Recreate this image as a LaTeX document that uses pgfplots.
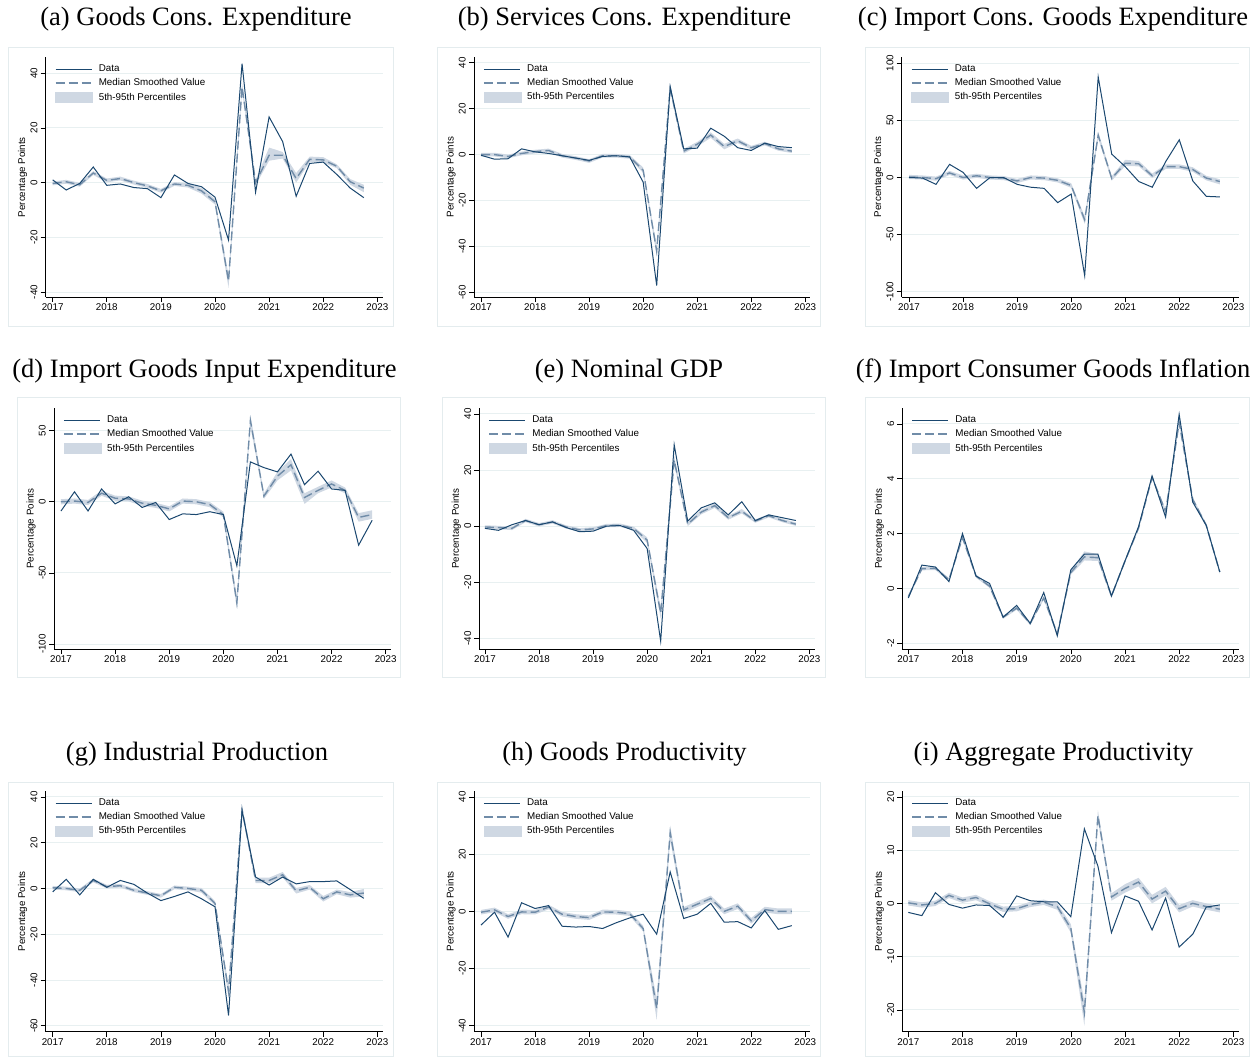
\documentclass[border=0pt]{standalone}
\usepackage{fontspec}
\setmainfont{Liberation Sans}
\newfontfamily\titlefont{Liberation Serif}
\usepackage{pgfplots}
\usepackage{pgfplotstable}
\pgfplotsset{compat=1.18}
\usepgfplotslibrary{fillbetween}
\definecolor{datac}{RGB}{26,71,111}
\definecolor{medc}{RGB}{112,140,168}
\definecolor{bandc}{RGB}{207,216,227}
\definecolor{gridc}{RGB}{232,240,241}
\definecolor{framec}{RGB}{228,236,238}
\newcommand{\smallf}{\fontsize{9.8}{11.5}\selectfont}
\newcommand{\ttl}{\titlefont\fontsize{26.5}{30}\selectfont}

\pgfplotstableread{
x d m lo hi
2017.00 1.0 -0.3 -1.0 0.4
2017.25 -2.7 0.3 -0.4 1.0
2017.50 -0.3 -0.8 -1.5 -0.1
2017.75 5.7 3.5 2.8 4.2
2018.00 -1.0 0.8 0.1 1.5
2018.25 -0.5 1.5 0.8 2.2
2018.50 -1.8 0.0 -0.7 0.7
2018.75 -2.2 -1.2 -1.9 -0.5
2019.00 -5.5 -3.0 -3.7 -2.3
2019.25 2.8 -0.5 -1.2 0.2
2019.50 -0.3 -1.0 -1.8 -0.2
2019.75 -1.5 -3.0 -4.0 -2.0
2020.00 -5.3 -7.0 -8.0 -6.0
2020.25 -21.0 -36.0 -38.5 -34.0
2020.50 43.5 35.0 33.5 36.5
2020.75 -3.5 0.0 -1.0 1.0
2021.00 24.0 10.0 8.0 12.8
2021.25 15.0 10.0 8.8 11.2
2021.50 -5.0 1.5 0.0 3.5
2021.75 7.0 8.5 7.5 9.5
2022.00 7.5 8.3 7.3 9.3
2022.25 3.0 6.0 5.3 6.7
2022.50 -2.0 0.3 -0.8 1.3
2022.75 -5.5 -2.0 -3.5 -0.8
}\tabA
\pgfplotstableread{
x d m lo hi
2017.00 -0.3 0.0 -0.8 0.8
2017.25 -2.0 0.0 -0.8 0.8
2017.50 -1.8 -0.8 -1.6 0.0
2017.75 2.5 0.5 -0.3 1.3
2018.00 1.2 1.3 0.5 2.1
2018.25 0.5 1.8 1.0 2.6
2018.50 -0.5 -0.5 -1.3 0.3
2018.75 -1.5 -1.5 -2.3 -0.7
2019.00 -2.5 -2.8 -3.6 -2.0
2019.25 -0.8 -0.5 -1.3 0.3
2019.50 -0.5 -0.5 -1.3 0.3
2019.75 -1.0 -1.0 -1.8 -0.2
2020.00 -12.0 -6.8 -8.0 -5.6
2020.25 -57.0 -42.0 -44.0 -40.0
2020.50 29.5 29.0 27.5 30.5
2020.75 2.5 1.5 0.5 2.5
2021.00 2.8 4.5 3.5 5.5
2021.25 11.5 8.5 7.3 9.7
2021.50 8.0 3.5 2.3 4.7
2021.75 3.0 6.0 5.0 7.0
2022.00 1.8 3.0 2.2 3.8
2022.25 5.0 4.8 4.0 5.6
2022.50 3.5 2.5 1.7 3.3
2022.75 3.0 1.5 0.7 2.3
}\tabB
\pgfplotstableread{
x d m lo hi
2017.00 0.0 0.5 -1.3 2.3
2017.25 -0.5 0.0 -1.8 1.8
2017.50 -6.0 -1.0 -2.8 0.8
2017.75 11.5 4.0 2.2 5.8
2018.00 4.5 0.0 -1.8 1.8
2018.25 -9.5 1.5 -0.3 3.3
2018.50 0.0 0.0 -1.8 1.8
2018.75 0.0 -0.5 -2.3 1.3
2019.00 -6.0 -3.0 -4.8 -1.2
2019.25 -8.5 0.0 -1.8 1.8
2019.50 -9.5 -0.5 -2.3 1.3
2019.75 -22.0 -2.5 -4.3 -0.7
2020.00 -14.5 -7.0 -9.0 -5.0
2020.25 -86.0 -37.0 -40.5 -34.0
2020.50 88.0 37.0 34.0 40.0
2020.75 20.5 -0.8 -2.8 1.2
2021.00 9.5 12.5 10.0 15.5
2021.25 -3.5 12.0 9.8 14.5
2021.50 -8.5 1.5 -0.5 3.5
2021.75 14.0 9.5 7.5 11.5
2022.00 33.0 9.5 7.5 11.5
2022.25 -3.0 7.0 5.0 9.0
2022.50 -16.5 -0.5 -2.5 1.5
2022.75 -17.0 -3.5 -6.0 -1.5
}\tabC
\pgfplotstableread{
x d m lo hi
2017.00 -6.5 0.0 -1.8 1.8
2017.25 7.0 0.5 -1.3 2.3
2017.50 -6.5 -0.5 -2.3 1.3
2017.75 9.0 6.0 4.2 7.8
2018.00 -1.5 2.5 0.7 4.3
2018.25 3.5 2.0 0.2 3.8
2018.50 -4.0 -1.0 -2.8 0.8
2018.75 -0.5 -2.5 -4.3 -0.7
2019.00 -12.5 -5.0 -6.8 -3.2
2019.25 -8.5 0.5 -1.3 2.3
2019.50 -9.0 0.0 -1.8 1.8
2019.75 -7.0 -2.0 -3.8 -0.2
2020.00 -9.0 -9.0 -11.0 -7.0
2020.25 -45.0 -71.0 -75.0 -67.0
2020.50 28.0 57.0 53.0 61.0
2020.75 24.0 4.0 2.0 6.0
2021.00 21.0 18.0 15.0 21.0
2021.25 33.5 26.0 22.0 30.0
2021.50 12.0 3.0 -1.5 6.0
2021.75 21.5 8.0 6.0 10.5
2022.00 9.0 12.5 10.0 15.0
2022.25 8.0 8.0 6.0 10.0
2022.50 -30.5 -11.0 -14.0 -8.0
2022.75 -13.0 -9.0 -12.0 -6.0
}\tabD
\pgfplotstableread{
x d m lo hi
2017.00 -0.8 -0.3 -0.9 0.3
2017.25 -1.5 -0.5 -1.1 0.1
2017.50 0.5 -0.8 -1.4 -0.2
2017.75 2.0 2.0 1.4 2.6
2018.00 0.5 0.5 -0.1 1.1
2018.25 1.5 1.5 0.9 2.1
2018.50 -0.5 -0.3 -0.9 0.3
2018.75 -2.0 -1.3 -1.9 -0.7
2019.00 -1.8 -1.0 -1.6 -0.4
2019.25 0.0 0.2 -0.4 0.8
2019.50 0.2 0.3 -0.3 0.9
2019.75 -1.5 -0.8 -1.4 -0.2
2020.00 -8.0 -5.0 -6.0 -4.0
2020.25 -41.0 -31.0 -33.0 -29.0
2020.50 29.0 23.5 22.0 25.0
2020.75 1.8 0.7 0.0 1.4
2021.00 6.5 5.0 4.2 5.8
2021.25 8.3 7.3 6.5 8.1
2021.50 4.0 3.0 2.3 3.7
2021.75 8.7 5.3 4.5 6.1
2022.00 2.0 1.8 1.2 2.4
2022.25 4.0 3.7 3.1 4.3
2022.50 3.0 2.0 1.4 2.6
2022.75 2.0 0.7 0.1 1.3
}\tabE
\pgfplotstableread{
x d m lo hi
2017.00 -0.35 -0.30 -0.36 -0.24
2017.25 0.85 0.72 0.66 0.78
2017.50 0.78 0.73 0.67 0.79
2017.75 0.25 0.32 0.26 0.38
2018.00 2.00 1.85 1.79 1.91
2018.25 0.45 0.45 0.39 0.51
2018.50 0.18 0.08 0.02 0.14
2018.75 -1.05 -1.05 -1.11 -0.99
2019.00 -0.62 -0.72 -0.78 -0.66
2019.25 -1.28 -1.28 -1.34 -1.22
2019.50 -0.15 -0.35 -0.41 -0.29
2019.75 -1.73 -1.65 -1.71 -1.59
2020.00 0.68 0.58 0.50 0.66
2020.25 1.25 1.15 1.02 1.35
2020.50 1.25 1.12 1.00 1.25
2020.75 -0.28 -0.28 -0.34 -0.22
2021.00 1.00 1.00 0.94 1.06
2021.25 2.25 2.20 2.14 2.26
2021.50 4.10 4.05 3.99 4.11
2021.75 2.60 2.80 2.72 2.88
2022.00 6.35 6.05 5.97 6.13
2022.25 3.15 3.25 3.17 3.33
2022.50 2.30 2.30 2.24 2.36
2022.75 0.60 0.60 0.54 0.66
}\tabF
\pgfplotstableread{
x d m lo hi
2017.00 -1.5 0.3 -0.5 1.1
2017.25 4.0 0.0 -0.8 0.8
2017.50 -2.8 -0.8 -1.6 0.0
2017.75 4.0 3.5 2.7 4.3
2018.00 0.5 0.8 0.0 1.6
2018.25 3.5 1.2 0.4 2.0
2018.50 1.8 -0.8 -1.6 0.0
2018.75 -2.0 -2.0 -2.8 -1.2
2019.00 -5.3 -3.2 -4.0 -2.4
2019.25 -3.5 0.5 -0.3 1.3
2019.50 -1.5 0.0 -0.8 0.8
2019.75 -4.5 -0.8 -1.8 0.2
2020.00 -8.0 -6.5 -7.5 -5.5
2020.25 -55.5 -45.0 -47.5 -42.5
2020.50 34.0 34.5 33.0 36.0
2020.75 5.0 3.5 2.3 4.7
2021.00 1.5 3.5 2.3 4.7
2021.25 5.0 6.0 4.8 7.2
2021.50 2.0 -1.0 -2.2 0.2
2021.75 3.0 0.5 -0.5 1.5
2022.00 3.0 -4.5 -5.7 -3.3
2022.25 3.3 -1.5 -2.5 -0.5
2022.50 -0.5 -2.8 -4.0 -1.6
2022.75 -4.3 -2.0 -3.5 -0.2
}\tabG
\pgfplotstableread{
x d m lo hi
2017.00 -4.8 -0.3 -1.1 0.5
2017.25 -0.3 0.5 -0.3 1.3
2017.50 -9.0 -1.8 -2.6 -1.0
2017.75 3.0 -0.2 -1.0 0.6
2018.00 1.0 -0.3 -1.1 0.5
2018.25 2.0 1.5 0.7 2.3
2018.50 -5.2 -1.0 -1.8 -0.2
2018.75 -5.5 -1.8 -2.6 -1.0
2019.00 -5.3 -2.2 -3.0 -1.4
2019.25 -6.0 -0.2 -1.0 0.6
2019.50 -4.0 -0.3 -1.1 0.5
2019.75 -2.3 -0.8 -1.6 0.0
2020.00 -1.0 -6.0 -7.0 -5.0
2020.25 -8.0 -34.0 -38.0 -30.5
2020.50 13.8 27.5 25.0 30.0
2020.75 -2.5 0.5 -0.5 1.5
2021.00 -1.0 2.5 1.5 3.5
2021.25 2.8 4.5 3.5 5.5
2021.50 -3.8 0.0 -1.0 1.0
2021.75 -3.6 1.8 0.8 2.8
2022.00 -5.8 -3.3 -4.3 -2.3
2022.25 0.3 0.6 -0.4 1.6
2022.50 -6.3 0.0 -1.0 1.0
2022.75 -5.0 0.0 -1.0 1.0
}\tabH
\pgfplotstableread{
x d m lo hi
2017.00 -1.7 0.1 -0.4 0.6
2017.25 -2.3 -0.3 -0.8 0.2
2017.50 2.0 0.0 -0.5 0.5
2017.75 -0.2 1.5 1.0 2.0
2018.00 -0.9 0.6 0.1 1.1
2018.25 -0.3 1.1 0.6 1.6
2018.50 -0.4 -0.1 -0.6 0.4
2018.75 -2.6 -1.1 -1.6 -0.6
2019.00 1.4 -1.0 -1.5 -0.5
2019.25 0.5 -0.2 -0.7 0.3
2019.50 0.3 0.2 -0.3 0.7
2019.75 0.3 -0.6 -1.2 0.0
2020.00 -2.5 -4.7 -5.5 -3.9
2020.25 14.0 -20.5 -23.0 -18.5
2020.50 7.0 16.5 15.5 17.5
2020.75 -5.5 1.2 0.5 1.9
2021.00 1.4 2.8 2.0 3.6
2021.25 0.4 4.0 3.2 4.8
2021.50 -5.0 0.8 0.0 1.6
2021.75 1.0 2.3 1.5 3.1
2022.00 -8.2 -1.0 -1.7 -0.3
2022.25 -5.8 0.0 -0.6 0.6
2022.50 -0.7 -0.6 -1.2 0.0
2022.75 -0.3 -1.1 -1.7 -0.5
}\tabI

\pgfplotsset{
  panel/.style={
    scale only axis,
    axis lines=left,
    axis line style={-, black, line width=0.8pt},
    xtick={2017,2018,...,2023},
    tick align=outside,
    major tick length=5pt,
    tick style={black, line width=0.6pt},
    tick pos=left,
    ymajorgrids,
    major grid style={gridc, line width=0.9pt},
    /pgf/number format/assume math mode=true,
    /pgf/number format/1000 sep={},
    xticklabel style={font=\smallf, anchor=north, inner sep=0pt, yshift=-1.5pt},
    yticklabel style={font=\smallf, xshift=-3pt, rotate=90, anchor=south, inner sep=0pt},
    ylabel={Percentage Points},
    ylabel style={font=\smallf, at={(axis description cs:-0.0683,0.5)}, anchor=center, inner sep=0pt},
    legend cell align=left,
    legend style={at={(axis description cs:0,1)}, anchor=north west, xshift=9pt, yshift=-7.5pt,
      draw=none, fill=none, font=\smallf, inner sep=0pt, row sep=4.7pt, column sep=6pt,
      nodes={inner sep=0pt, text height=7pt, text depth=2pt}},
  },
  bandp/.style={fill=bandc, draw=none, forget plot},
  medp/.style={medc, line width=1.4pt, dash pattern=on 9pt off 4pt, forget plot},
  datap/.style={datac, line width=1.0pt, forget plot},
}

\newcommand{\legendthree}{%
  \addlegendimage{legend image code/.code={\draw[datac, line width=1.0pt] (0pt,0pt) -- (36pt,0pt);}}
  \addlegendentry{Data}
  \addlegendimage{legend image code/.code={\draw[medc, line width=1.4pt, dash pattern=on 9pt off 4pt] (0pt,0pt) -- (36pt,0pt);}}
  \addlegendentry{Median Smoothed Value}
  \addlegendimage{legend image code/.code={\fill[bandc] (0pt,-5pt) rectangle (37pt,5pt);}}
  \addlegendentry{5th-95th Percentiles}
}
\newcommand{\series}[1]{%
  \addplot[draw=none, name path=lo, forget plot] table[x=x, y=lo]{#1};
  \addplot[draw=none, name path=hi, forget plot] table[x=x, y=hi]{#1};
  \addplot[bandp] fill between[of=hi and lo];
  \addplot[medp] table[x=x, y=m]{#1};
  \addplot[datap] table[x=x, y=d]{#1};
}

\begin{document}
\begin{tikzpicture}
\path (0pt,0pt) rectangle (1260pt,1057pt);
% frames
\draw[framec, line width=0.8pt] (8pt,731pt) rectangle (393pt,1010pt);
\draw[framec, line width=0.8pt] (437pt,731pt) rectangle (820pt,1010pt);
\draw[framec, line width=0.8pt] (865pt,731pt) rectangle (1249pt,1010pt);
\draw[framec, line width=0.8pt] (17pt,380pt) rectangle (400pt,660pt);
\draw[framec, line width=0.8pt] (442pt,380pt) rectangle (825pt,660pt);
\draw[framec, line width=0.8pt] (865pt,380pt) rectangle (1249pt,660pt);
\draw[framec, line width=0.8pt] (8pt,0.5pt) rectangle (393pt,275pt);
\draw[framec, line width=0.8pt] (437pt,0.5pt) rectangle (820pt,275pt);
\draw[framec, line width=0.8pt] (865pt,0.5pt) rectangle (1249pt,275pt);
% titles
\node[font=\ttl, anchor=base] at (196pt,1031pt) {(a) Goods Cons. Expenditure};
\node[font=\ttl, anchor=base] at (624.5pt,1031pt) {(b) Services Cons. Expenditure};
\node[font=\ttl, anchor=base] at (1053pt,1031pt) {(c) Import Cons. Goods Expenditure};
\node[font=\ttl, anchor=base] at (204.5pt,679pt) {(d) Import Goods Input Expenditure};
\node[font=\ttl, anchor=base] at (629pt,679pt) {(e) Nominal GDP};
\node[font=\ttl, anchor=base] at (1053pt,679pt) {(f) Import Consumer Goods Inflation};
\node[font=\ttl, anchor=base] at (197pt,296pt) {(g) Industrial Production};
\node[font=\ttl, anchor=base] at (624.5pt,296pt) {(h) Goods Productivity};
\node[font=\ttl, anchor=base] at (1053.5pt,296pt) {(i) Aggregate Productivity};

% (a)
\begin{axis}[panel, at={(45.7pt,760pt)}, anchor=south west, width=337.3pt, height=239.7pt,
  xmin=2016.871, xmax=2023.105, ymin=-41.8, ymax=45.8, ytick={-40,-20,0,20,40}]
\legendthree
\series{\tabA}
\end{axis}
% (b)
\begin{axis}[panel, at={(474pt,760pt)}, anchor=south west, width=336pt, height=240pt,
  xmin=2016.870, xmax=2023.087, ymin=-62, ymax=42.5, ytick={-60,-40,-20,0,20,40}]
\legendthree
\series{\tabB}
\end{axis}
% (c)
\begin{axis}[panel, at={(901.7pt,760pt)}, anchor=south west, width=337.3pt, height=240pt,
  xmin=2016.865, xmax=2023.105, ymin=-104.6, ymax=105.5, ytick={-100,-50,0,50,100}]
\legendthree
\series{\tabC}
\end{axis}
% (d)
\begin{axis}[panel, at={(54pt,408pt)}, anchor=south west, width=337pt, height=240.7pt,
  xmin=2016.871, xmax=2023.098, ymin=-103.5, ymax=65.7, ytick={-100,-50,0,50}]
\legendthree
\series{\tabD}
\end{axis}
% (e)
\begin{axis}[panel, at={(479.3pt,408pt)}, anchor=south west, width=335.7pt, height=240.7pt,
  xmin=2016.895, xmax=2023.105, ymin=-43.8, ymax=42, ytick={-40,-20,0,20,40}]
\legendthree
\series{\tabE}
\end{axis}
% (f)
\begin{axis}[panel, at={(902.3pt,408pt)}, anchor=south west, width=336.7pt, height=240.7pt,
  xmin=2016.889, xmax=2023.105, ymin=-2.21, ymax=6.57, ytick={-2,0,2,4,6}]
\legendthree
\series{\tabF}
\end{axis}
% (g)
\begin{axis}[panel, at={(45.7pt,25.3pt)}, anchor=south west, width=337pt, height=240.7pt,
  xmin=2016.871, xmax=2023.099, ymin=-62.6, ymax=42.6, ytick={-60,-40,-20,0,20,40}]
\legendthree
\series{\tabG}
\end{axis}
% (h)
\begin{axis}[panel, at={(474pt,25.3pt)}, anchor=south west, width=336pt, height=240.7pt,
  xmin=2016.870, xmax=2023.087, ymin=-42.1, ymax=42.1, ytick={-40,-20,0,20,40}]
\legendthree
\series{\tabH}
\end{axis}
% (i)
\begin{axis}[panel, at={(902.3pt,25.3pt)}, anchor=south west, width=336.7pt, height=240.7pt,
  xmin=2016.889, xmax=2023.105, ymin=-24.1, ymax=21.1, ytick={-20,-10,0,10,20}]
\legendthree
\series{\tabI}
\end{axis}
\end{tikzpicture}
\end{document}
